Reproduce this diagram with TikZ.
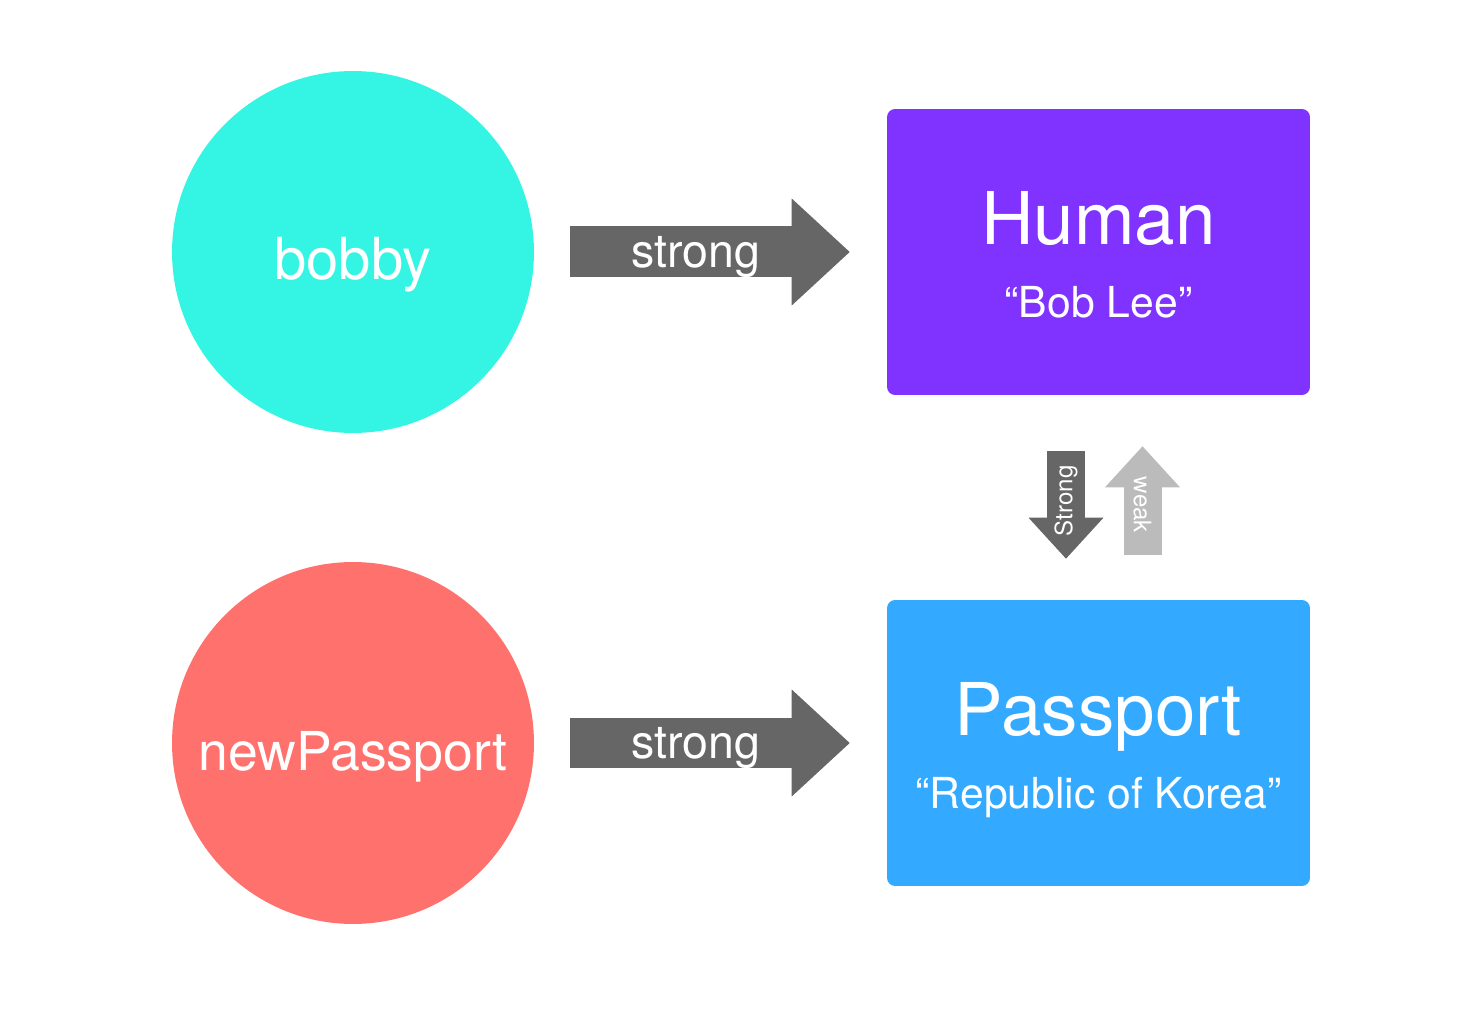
\documentclass[tikz,border=0pt]{standalone}
\usepackage{fontspec}
\setmainfont{TeX Gyre Heros}
\usetikzlibrary{arrows.meta,calc}

\definecolor{bobbycyan}{HTML}{34F5E4}
\definecolor{passred}{HTML}{FF716C}
\definecolor{humanpurple}{HTML}{8033FF}
\definecolor{passblue}{HTML}{33AAFF}
\definecolor{strongray}{HTML}{666666}
\definecolor{weakgray}{HTML}{BBBBBB}

\newcommand{\fsz}[1]{\fontsize{#1}{1.2\dimexpr#1\relax}\selectfont}

\tikzset{
  refcircle/.style={circle, minimum size=7.24cm, inner sep=0pt},
  objbox/.style={rectangle, rounded corners=0.16cm, minimum width=8.46cm, minimum height=5.72cm, inner sep=0pt},
  whitetext/.style={text=white, inner sep=0pt},
  refarrow/.style={draw=strongray, line width=1.02cm,
    -{Triangle[length=1.16cm,width=2.14cm,line width=0pt]}},
  cyclearrow/.style={line width=0.76cm,
    -{Triangle[length=0.82cm,width=1.5cm,line width=0pt]}}
}

\begin{document}
\begin{tikzpicture}[x=0.02cm,y=-0.02cm]
  \useasboundingbox (0,0) rectangle (1482,1033);

  % variables
  \node[refcircle, fill=bobbycyan] (bobby) at (353,252) {};
  \node[refcircle, fill=passred] (newpass) at (353,743) {};
  \node[whitetext, anchor=base] (bobbytext) at (353,280) {\fsz{33pt}bobby};
  \node[whitetext, anchor=base] (newpasstext) at (353,771) {\fsz{30.5pt}newPassport};

  % instances
  \node[objbox, fill=humanpurple] (human) at (1098.5,252) {};
  \node[objbox, fill=passblue] (passport) at (1098.5,743) {};
  \node[whitetext, anchor=base] (humanname) at ($(human.center)+(0,-7)$) {\fsz{41.4pt}Human};
  \node[whitetext, anchor=base] (humanval) at ($(human.center)+(0,66)$) {\fsz{24.3pt}“Bob Lee”};
  \node[whitetext, anchor=base] (passname) at ($(passport.center)+(0,-7)$) {\fsz{41.4pt}Passport};
  \node[whitetext, anchor=base] (passval) at ($(passport.center)+(0,66)$) {\fsz{24.3pt}“Republic of Korea”};

  % references
  \draw[refarrow] ($(bobby.east)+(36,0)$) -- ($(human.west)+(-37,0)$)
    node[whitetext, pos=0.45, yshift=-0.1cm] {\fsz{26.5pt}strong};
  \draw[refarrow] ($(newpass.east)+(36,0)$) -- ($(passport.west)+(-37,0)$)
    node[whitetext, pos=0.45, yshift=-0.1cm] {\fsz{26.5pt}strong};

  % human <-> passport
  \draw[cyclearrow, draw=strongray] ($(human.south)+(-32.5,56)$) -- ($(passport.north)+(-32.5,-41)$)
    node[whitetext, pos=0.46, rotate=90] {\fsz{13.7pt}Strong};
  \draw[cyclearrow, draw=weakgray] ($(passport.north)+(44,-45)$) -- ($(human.south)+(44,51)$)
    node[whitetext, pos=0.46, rotate=-90] {\fsz{13.7pt}weak};
\end{tikzpicture}
\end{document}
